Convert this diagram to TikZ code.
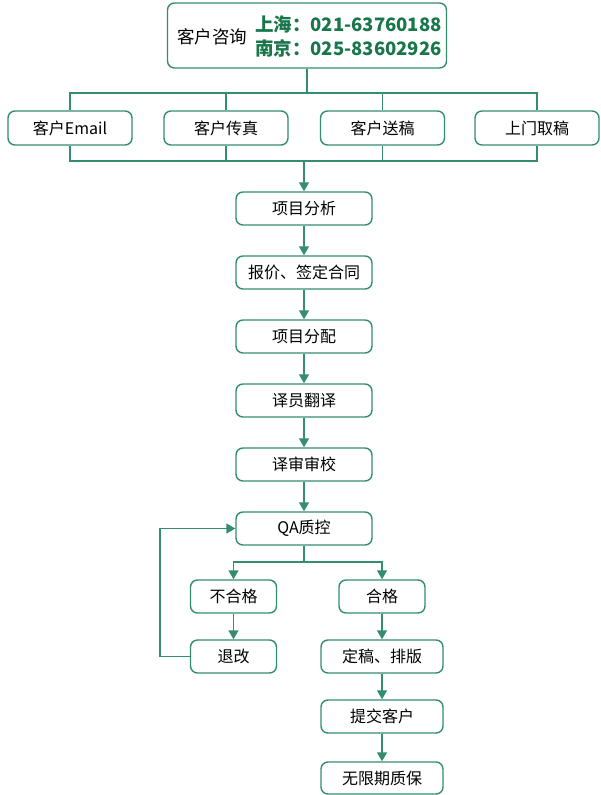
\documentclass[tikz,border=0pt]{standalone}
\usepackage{fontspec}
\setmainfont{Noto Sans CJK SC}
\usetikzlibrary{arrows.meta}
\definecolor{lc}{RGB}{52,142,110}
\definecolor{tc}{RGB}{24,118,74}
\begin{document}
\begin{tikzpicture}[x=1pt,y=-1pt,
  box/.style={draw=lc,line width=1.4pt,rounded corners=7pt,fill=white,inner sep=0pt,font=\fontsize{16}{19}\selectfont},
  ln/.style={draw=lc,line width=1.4pt},
  arr/.style={ln,-{Triangle[width=10pt,length=9pt]}}]
\useasboundingbox (0,0) rectangle (600,795);
% top
\node[box,minimum width=279,minimum height=65] (top) at (307,35.5) {};
\node[anchor=west,inner sep=0pt,font=\fontsize{17.5}{20}\selectfont] (tq) at (177,37) {客户咨询};
\node[anchor=west,inner sep=0pt,text=tc,font=\fontsize{18.5}{22}\bfseries] (sh) at (255,24) {上海：021-63760188};
\node[anchor=west,inner sep=0pt,text=tc,font=\fontsize{18.5}{22}\bfseries] (nj) at (255,48.5) {南京：025-83602926};
% channels
\node[box,minimum width=124,minimum height=34] (e) at (70,128) {客户Email};
\node[box,minimum width=124,minimum height=34] (f) at (226,128) {客户传真};
\node[box,minimum width=124,minimum height=34] (s) at (382.5,128) {客户送稿};
\node[box,minimum width=124,minimum height=34] (u) at (537,128) {上门取稿};
\coordinate (j1) at (307,93);
\coordinate (j2) at (304,161);
\draw[ln] (top.south) -- (j1);
\draw[ln] (e.north) |- (j1) -| (u.north);
\draw[ln] (f.north) |- (j1);
\draw[ln] (s.north) |- (j1);
\draw[ln] (e.south) |- (j2) -| (u.south);
\draw[ln] (f.south) |- (j2);
\draw[ln] (s.south) |- (j2);
% main column
\node[box,minimum width=136,minimum height=33] (a1) at (304,208.5) {项目分析};
\node[box,minimum width=136,minimum height=33] (a2) at (304,272.5) {报价、签定合同};
\node[box,minimum width=136,minimum height=33] (a3) at (304,336.5) {项目分配};
\node[box,minimum width=136,minimum height=33] (a4) at (304,400.5) {译员翻译};
\node[box,minimum width=136,minimum height=33] (a5) at (304,464.5) {译审审校};
\node[box,minimum width=136,minimum height=33] (qa) at (304,528.5) {QA质控};
\draw[arr] (j2) -- (a1.north);
\draw[arr] (a1) -- (a2);
\draw[arr] (a2) -- (a3);
\draw[arr] (a3) -- (a4);
\draw[arr] (a4) -- (a5);
\draw[arr] (a5) -- (qa);
% branch
\node[box,minimum width=86,minimum height=33] (bh) at (233.5,596.5) {不合格};
\node[box,minimum width=86,minimum height=33] (hg) at (382,596.5) {合格};
\node[box,minimum width=86,minimum height=33] (tg) at (233.5,656.5) {退改};
\node[box,minimum width=122,minimum height=33] (db) at (382,656.5) {定稿、排版};
\node[box,minimum width=122,minimum height=33] (tj) at (382,716.5) {提交客户};
\node[box,minimum width=122,minimum height=32] (wx) at (382,778) {无限期质保};
\coordinate (j3) at (304,562);
\draw[ln] (qa.south) -- (j3);
\draw[arr] (j3) -| (bh.north);
\draw[arr] (j3) -| (hg.north);
\draw[arr] (bh) -- (tg);
\draw[arr] (hg) -- (db);
\draw[arr] (db) -- (tj);
\draw[arr] (tj) -- (wx);
\draw[arr] (tg.west) -- ++(-30,0) |- (qa.west);
\end{tikzpicture}
\end{document}
